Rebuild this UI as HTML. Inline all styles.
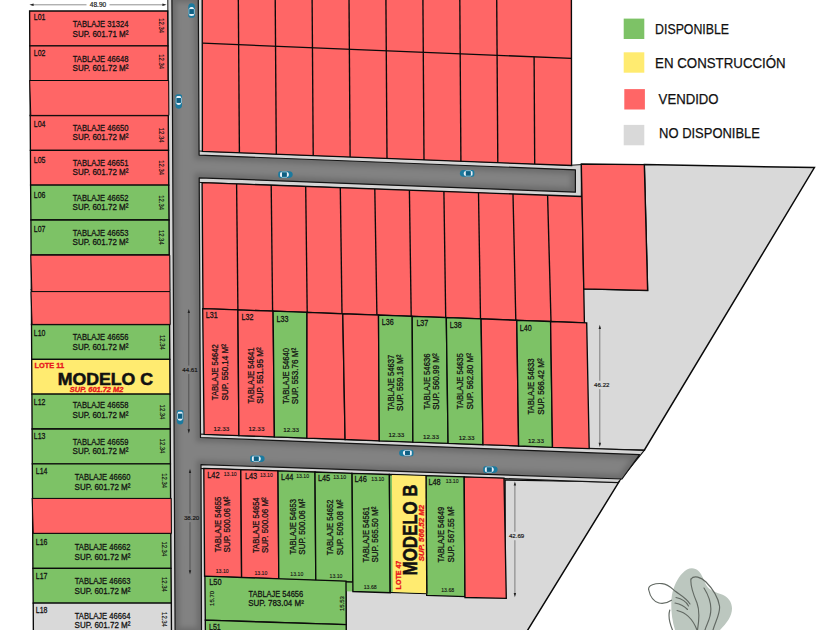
<!DOCTYPE html>
<html><head><meta charset="utf-8"><title>Plano de lotes</title>
<style>
html,body{margin:0;padding:0;background:#fff;}
body{width:840px;height:630px;overflow:hidden;}
svg{display:block;font-family:"Liberation Sans",sans-serif;fill:#111;}
svg text{stroke:#111;}
svg text.b{stroke:none;}
svg polygon,svg rect,svg path,svg line{shape-rendering:geometricPrecision;}
</style></head><body>
<svg width="840" height="630" viewBox="0 0 840 630">
<rect x="0" y="0" width="840" height="630" fill="#fff"/>
<polygon points="644.3,164.6 814.4,167.6 644.3,450.2 583.0,449.0 583.0,288.8 647.6,290.4" fill="#D9D9D9" stroke="#0A0A0A" stroke-width="1.5" />
<polygon points="346.0,590.0 505.0,596.0 505.0,480.0 619.0,481.8 526.5,632.0 346.0,632.0" fill="#D9D9D9" stroke="#0A0A0A" stroke-width="1.5" />
<polygon points="167.8,-2.0 203.0,-2.0 206.2,632.0 171.0,632.0" fill="#D5D5D5" stroke="#141414" stroke-width="1.0" />
<polygon points="198.6,151.0 571.6,165.2 581.3,164.6 581.3,197.0 198.6,182.4" fill="#D5D5D5" stroke="#141414" stroke-width="1.0" />
<polygon points="198.6,434.0 588.6,448.4 644.3,450.4 618.0,482.6 560.0,480.7 505.0,478.6 198.6,468.4" fill="#D5D5D5" stroke="#141414" stroke-width="1.2" />
<defs><clipPath id="rc"><polygon points="171.9,-2.0 198.3,-2.0 199.1,155.1 575.4,169.8 575.4,192.2 199.2,177.8 200.5,437.5 639.6,454.7 622.0,479.0 201.0,464.6 201.5,632.0 175.1,632.0"/></clipPath><filter id="bl" x="-5%" y="-5%" width="110%" height="110%"><feGaussianBlur stdDeviation="2.6"/></filter></defs>
<polygon points="171.9,-2.0 198.3,-2.0 199.1,155.1 575.4,169.8 575.4,192.2 199.2,177.8 200.5,437.5 639.6,454.7 622.0,479.0 201.0,464.6 201.5,632.0 175.1,632.0" fill="#828282"  />
<g clip-path="url(#rc)"><polygon points="171.9,-2.0 198.3,-2.0 199.1,155.1 575.4,169.8 575.4,192.2 199.2,177.8 200.5,437.5 639.6,454.7 622.0,479.0 201.0,464.6 201.5,632.0 175.1,632.0" fill="none" stroke="#000" stroke-opacity="0.17" stroke-width="9" filter="url(#bl)"/></g>
<polygon points="171.9,-2.0 198.3,-2.0 199.1,155.1 575.4,169.8 575.4,192.2 199.2,177.8 200.5,437.5 639.6,454.7 622.0,479.0 201.0,464.6 201.5,632.0 175.1,632.0" fill="none" stroke="#141414" stroke-width="1.2" stroke-linejoin="round"/>
<polygon points="29.6,11.0 167.7,11.0 167.9,45.8 29.8,45.8" fill="#FF6666" stroke="#0A0A0A" stroke-width="1.35" />
<polygon points="29.8,45.8 167.9,45.8 168.1,80.7 30.0,80.7" fill="#FF6666" stroke="#0A0A0A" stroke-width="1.35" />
<polygon points="30.0,80.7 168.1,80.7 168.3,115.5 30.2,115.5" fill="#FF6666" stroke="#0A0A0A" stroke-width="1.35" />
<polygon points="30.2,115.5 168.3,115.5 168.5,150.3 30.4,150.3" fill="#FF6666" stroke="#0A0A0A" stroke-width="1.35" />
<polygon points="30.4,150.3 168.5,150.3 168.7,185.1 30.6,185.1" fill="#FF6666" stroke="#0A0A0A" stroke-width="1.35" />
<polygon points="30.6,185.1 168.7,185.1 169.0,220.0 30.9,220.0" fill="#7DC266" stroke="#0A0A0A" stroke-width="1.35" />
<polygon points="30.9,220.0 169.0,220.0 169.2,254.8 31.1,254.8" fill="#7DC266" stroke="#0A0A0A" stroke-width="1.35" />
<polygon points="31.1,254.8 169.2,254.8 169.4,289.6 31.3,289.6" fill="#FF6666" stroke="#0A0A0A" stroke-width="1.35" />
<polygon points="31.3,289.6 169.4,289.6 169.6,324.5 31.5,324.5" fill="#FF6666" stroke="#0A0A0A" stroke-width="1.35" />
<polygon points="31.5,324.5 169.6,324.5 169.8,359.3 31.7,359.3" fill="#7DC266" stroke="#0A0A0A" stroke-width="1.35" />
<polygon points="31.7,359.3 169.8,359.3 170.0,394.1 31.9,394.1" fill="#FFEB70" stroke="#0A0A0A" stroke-width="1.35" />
<polygon points="31.9,394.1 170.0,394.1 170.2,429.0 32.1,429.0" fill="#7DC266" stroke="#0A0A0A" stroke-width="1.35" />
<polygon points="32.1,429.0 170.2,429.0 170.4,463.8 32.3,463.8" fill="#7DC266" stroke="#0A0A0A" stroke-width="1.35" />
<polygon points="32.3,463.8 170.4,463.8 170.6,498.6 32.5,498.6" fill="#7DC266" stroke="#0A0A0A" stroke-width="1.35" />
<polygon points="32.5,498.6 170.6,498.6 170.8,533.5 32.7,533.5" fill="#FF6666" stroke="#0A0A0A" stroke-width="1.35" />
<polygon points="32.7,533.4 170.8,533.4 171.0,568.3 32.9,568.3" fill="#7DC266" stroke="#0A0A0A" stroke-width="1.35" />
<polygon points="32.9,568.3 171.0,568.3 171.3,603.1 33.2,603.1" fill="#7DC266" stroke="#0A0A0A" stroke-width="1.35" />
<polygon points="33.2,603.1 171.3,603.1 171.5,637.9 33.4,637.9" fill="#D9D9D9" stroke="#0A0A0A" stroke-width="1.35" />
<polygon points="29.7,80.5 168.7,80.5 168.9,115.4 30.8,115.4" fill="#FF6666" stroke="#0A0A0A" stroke-width="1.0" />
<polygon points="30.8,255.2 169.8,255.2 170.0,291.6 31.9,291.6" fill="#FF6666" stroke="#0A0A0A" stroke-width="1.0" />
<polygon points="31.0,291.6 170.0,291.6 170.2,324.4 32.1,324.4" fill="#FF6666" stroke="#0A0A0A" stroke-width="1.0" />
<polygon points="32.2,498.4 171.2,498.4 171.4,533.3 33.3,533.3" fill="#FF6666" stroke="#0A0A0A" stroke-width="1.0" />
<polygon points="202.2,-3.0 571.4,-3.0 571.6,165.5 202.4,151.4" fill="#FF6666" stroke="#0A0A0A" stroke-width="1.35" />
<line x1="238.3" y1="-3.0" x2="239.4" y2="152.8" stroke="#0A0A0A" stroke-width="1.35"/>
<line x1="275.2" y1="-3.0" x2="276.3" y2="154.2" stroke="#0A0A0A" stroke-width="1.35"/>
<line x1="312.1" y1="-3.0" x2="313.2" y2="155.6" stroke="#0A0A0A" stroke-width="1.35"/>
<line x1="349.0" y1="-3.0" x2="350.1" y2="157.0" stroke="#0A0A0A" stroke-width="1.35"/>
<line x1="385.9" y1="-3.0" x2="387.0" y2="158.5" stroke="#0A0A0A" stroke-width="1.35"/>
<line x1="422.9" y1="-3.0" x2="424.0" y2="159.9" stroke="#0A0A0A" stroke-width="1.35"/>
<line x1="459.8" y1="-3.0" x2="460.9" y2="161.3" stroke="#0A0A0A" stroke-width="1.35"/>
<line x1="496.7" y1="-3.0" x2="497.8" y2="162.7" stroke="#0A0A0A" stroke-width="1.35"/>
<line x1="534.1" y1="56.8" x2="534.7" y2="164.1" stroke="#0A0A0A" stroke-width="1.35"/>
<line x1="202.8" y1="43.2" x2="571.6" y2="58.4" stroke="#0A0A0A" stroke-width="1.35"/>
<polygon points="202.1,182.6 582.1,196.5 584.4,322.8 203.0,308.6" fill="#FF6666" stroke="#0A0A0A" stroke-width="1.35" />
<line x1="236.6" y1="183.9" x2="237.9" y2="309.9" stroke="#0A0A0A" stroke-width="1.35"/>
<line x1="271.2" y1="185.1" x2="272.6" y2="311.2" stroke="#0A0A0A" stroke-width="1.35"/>
<line x1="305.7" y1="186.4" x2="307.2" y2="312.4" stroke="#0A0A0A" stroke-width="1.35"/>
<line x1="340.3" y1="187.7" x2="342.0" y2="313.7" stroke="#0A0A0A" stroke-width="1.35"/>
<line x1="374.8" y1="188.9" x2="376.9" y2="315.0" stroke="#0A0A0A" stroke-width="1.35"/>
<line x1="409.4" y1="190.2" x2="411.2" y2="316.3" stroke="#0A0A0A" stroke-width="1.35"/>
<line x1="443.9" y1="191.4" x2="445.7" y2="317.6" stroke="#0A0A0A" stroke-width="1.35"/>
<line x1="478.5" y1="192.7" x2="480.5" y2="318.9" stroke="#0A0A0A" stroke-width="1.35"/>
<line x1="513.0" y1="194.0" x2="515.8" y2="320.2" stroke="#0A0A0A" stroke-width="1.35"/>
<line x1="547.6" y1="195.2" x2="551.0" y2="321.5" stroke="#0A0A0A" stroke-width="1.35"/>
<polygon points="202.7,308.6 237.9,309.9 238.9,435.6 204.1,434.3" fill="#FF6666" stroke="#0A0A0A" stroke-width="1.35" />
<polygon points="237.9,309.9 273.1,311.2 274.4,436.9 238.9,435.6" fill="#FF6666" stroke="#0A0A0A" stroke-width="1.35" />
<polygon points="273.1,311.2 307.0,312.4 306.9,438.1 274.4,436.9" fill="#7DC266" stroke="#0A0A0A" stroke-width="1.35" />
<polygon points="307.0,312.4 342.8,313.8 345.1,439.5 306.9,438.1" fill="#FF6666" stroke="#0A0A0A" stroke-width="1.35" />
<polygon points="342.8,313.8 378.5,315.1 379.3,440.8 345.1,439.5" fill="#FF6666" stroke="#0A0A0A" stroke-width="1.35" />
<polygon points="378.5,315.1 412.2,316.4 412.9,442.1 379.3,440.8" fill="#7DC266" stroke="#0A0A0A" stroke-width="1.35" />
<polygon points="412.2,316.4 446.3,317.6 448.1,443.4 412.9,442.1" fill="#7DC266" stroke="#0A0A0A" stroke-width="1.35" />
<polygon points="446.3,317.6 481.1,318.9 483.0,444.7 448.1,443.4" fill="#7DC266" stroke="#0A0A0A" stroke-width="1.35" />
<polygon points="481.1,318.9 516.8,320.3 518.6,446.0 483.0,444.7" fill="#FF6666" stroke="#0A0A0A" stroke-width="1.35" />
<polygon points="516.8,320.3 550.6,321.5 552.5,447.3 518.6,446.0" fill="#7DC266" stroke="#0A0A0A" stroke-width="1.35" />
<polygon points="550.6,321.5 586.7,322.9 589.2,448.6 552.5,447.3" fill="#FF6666" stroke="#0A0A0A" stroke-width="1.35" />
<polygon points="581.3,164.0 644.3,164.6 647.6,290.4 583.8,288.8" fill="#FF6666" stroke="#0A0A0A" stroke-width="1.35" />
<polygon points="345.5,579.0 352.6,579.0 352.8,591.6 345.5,591.2" fill="#7DC266"  />
<polygon points="203.8,468.4 240.8,469.6 241.6,577.6 204.6,576.4" fill="#FF6666" stroke="#0A0A0A" stroke-width="1.35" />
<polygon points="240.8,469.6 278.0,470.8 278.8,578.8 241.6,577.6" fill="#FF6666" stroke="#0A0A0A" stroke-width="1.35" />
<polygon points="278.0,470.8 315.0,472.0 315.8,580.6 278.8,579.4" fill="#7DC266" stroke="#0A0A0A" stroke-width="1.35" />
<polygon points="315.0,472.0 352.1,473.3 352.9,582.0 315.8,580.8" fill="#7DC266" stroke="#0A0A0A" stroke-width="1.35" />
<polygon points="352.1,473.3 389.4,474.5 390.2,592.7 352.9,591.5" fill="#7DC266" stroke="#0A0A0A" stroke-width="1.35" />
<polygon points="389.4,474.5 425.9,475.7 426.7,593.6 390.2,592.4" fill="#7DC266" stroke="#0A0A0A" stroke-width="1.35" />
<polygon points="425.9,475.7 464.2,476.9 465.0,596.6 426.7,595.4" fill="#7DC266" stroke="#0A0A0A" stroke-width="1.35" />
<polygon points="464.2,476.9 504.0,478.2 506.3,598.3 465.0,597.5" fill="#FF6666" stroke="#0A0A0A" stroke-width="1.35" />
<polygon points="391.9,475.0 426.0,476.1 426.8,593.2 392.7,592.0" fill="#FFEB70"  />
<line x1="426.0" y1="475.7" x2="426.8" y2="593.6" stroke="#0A0A0A" stroke-width="1.35"/>
<polygon points="204.9,576.2 346.0,581.2 346.2,624.6 205.3,620.2" fill="#7DC266" stroke="#0A0A0A" stroke-width="1.35" />
<polygon points="205.3,620.2 346.2,624.6 346.3,640.0 205.4,640.0" fill="#7DC266" stroke="#0A0A0A" stroke-width="1.35" />
<text x="34.6" y="368.1" font-size="7.0" textLength="29.4" lengthAdjust="spacingAndGlyphs" font-weight="bold" class="b" style="stroke:#E8141C;stroke-width:.32px" fill="#E8141C">LOTE 11</text>
<text x="57.7" y="384.5" font-size="17.2" textLength="95.3" lengthAdjust="spacingAndGlyphs" font-weight="bold" class="b" style="stroke:#111;stroke-width:.55px">MODELO C</text>
<text x="69.8" y="392.0" font-size="6.6" textLength="53.6" lengthAdjust="spacingAndGlyphs" font-weight="bold" class="b" style="stroke:#E8141C;stroke-width:.32px" font-style="italic" fill="#E8141C">SUP. 601.72 M2</text>
<text x="416.6" y="575.4" font-size="20.0" textLength="90.8" lengthAdjust="spacingAndGlyphs" transform="rotate(-90 416.6 575.4)" font-weight="bold" class="b" style="stroke:#111;stroke-width:.55px">MODELO B</text>
<text x="401.0" y="589.4" font-size="7.2" textLength="28.7" lengthAdjust="spacingAndGlyphs" transform="rotate(-90 401.0 589.4)" font-weight="bold" class="b" style="stroke:#E8141C;stroke-width:.32px" fill="#E8141C">LOTE 47</text>
<text x="424.0" y="561.3" font-size="6.8" textLength="56.4" lengthAdjust="spacingAndGlyphs" transform="rotate(-90 424.0 561.3)" font-weight="bold" class="b" style="stroke:#E8141C;stroke-width:.32px" font-style="italic" fill="#E8141C">SUP. 566.52 M2</text>
<text x="33.8" y="20.0" font-size="8.5" textLength="11.6" lengthAdjust="spacingAndGlyphs" stroke-width="0.27">L01</text>
<text x="72.8" y="27.1" font-size="8.7" textLength="55.6" lengthAdjust="spacingAndGlyphs" stroke-width="0.27">TABLAJE 31324</text>
<text x="72.6" y="36.5" font-size="8.7" textLength="55.8" lengthAdjust="spacingAndGlyphs" stroke-width="0.27">SUP. 601.71 M²</text>
<text font-size="7.0" stroke-width="0.16" text-anchor="middle" textLength="14.8" lengthAdjust="spacingAndGlyphs" transform="translate(158.8 25.6) rotate(90)">12.34</text>
<text x="33.8" y="55.7" font-size="8.5" textLength="11.6" lengthAdjust="spacingAndGlyphs" stroke-width="0.27">L02</text>
<text x="72.8" y="61.9" font-size="8.7" textLength="55.6" lengthAdjust="spacingAndGlyphs" stroke-width="0.27">TABLAJE 46648</text>
<text x="72.6" y="71.3" font-size="8.7" textLength="55.8" lengthAdjust="spacingAndGlyphs" stroke-width="0.27">SUP. 601.72 M²</text>
<text font-size="7.0" stroke-width="0.16" text-anchor="middle" textLength="14.8" lengthAdjust="spacingAndGlyphs" transform="translate(158.8 61.7) rotate(90)">12.34</text>
<text x="33.8" y="127.2" font-size="8.5" textLength="11.6" lengthAdjust="spacingAndGlyphs" stroke-width="0.27">L04</text>
<text x="72.8" y="131.0" font-size="8.7" textLength="55.6" lengthAdjust="spacingAndGlyphs" stroke-width="0.27">TABLAJE 46650</text>
<text x="72.6" y="140.4" font-size="8.7" textLength="55.8" lengthAdjust="spacingAndGlyphs" stroke-width="0.27">SUP. 601.72 M²</text>
<text font-size="7.0" stroke-width="0.16" text-anchor="middle" textLength="14.8" lengthAdjust="spacingAndGlyphs" transform="translate(158.8 135.1) rotate(90)">12.34</text>
<text x="33.8" y="162.5" font-size="8.5" textLength="11.6" lengthAdjust="spacingAndGlyphs" stroke-width="0.27">L05</text>
<text x="72.8" y="165.8" font-size="8.7" textLength="55.6" lengthAdjust="spacingAndGlyphs" stroke-width="0.27">TABLAJE 46651</text>
<text x="72.6" y="175.2" font-size="8.7" textLength="55.8" lengthAdjust="spacingAndGlyphs" stroke-width="0.27">SUP. 601.72 M²</text>
<text font-size="7.0" stroke-width="0.16" text-anchor="middle" textLength="14.8" lengthAdjust="spacingAndGlyphs" transform="translate(158.8 167.6) rotate(90)">12.34</text>
<text x="33.8" y="197.6" font-size="8.5" textLength="11.6" lengthAdjust="spacingAndGlyphs" stroke-width="0.27">L06</text>
<text x="72.8" y="200.9" font-size="8.7" textLength="55.6" lengthAdjust="spacingAndGlyphs" stroke-width="0.27">TABLAJE 46652</text>
<text x="72.6" y="210.3" font-size="8.7" textLength="55.8" lengthAdjust="spacingAndGlyphs" stroke-width="0.27">SUP. 601.72 M²</text>
<text font-size="7.0" stroke-width="0.16" text-anchor="middle" textLength="14.8" lengthAdjust="spacingAndGlyphs" transform="translate(158.8 202.6) rotate(90)">12.34</text>
<text x="33.8" y="232.3" font-size="8.5" textLength="11.6" lengthAdjust="spacingAndGlyphs" stroke-width="0.27">L07</text>
<text x="72.8" y="235.8" font-size="8.7" textLength="55.6" lengthAdjust="spacingAndGlyphs" stroke-width="0.27">TABLAJE 46653</text>
<text x="72.6" y="245.2" font-size="8.7" textLength="55.8" lengthAdjust="spacingAndGlyphs" stroke-width="0.27">SUP. 601.72 M²</text>
<text font-size="7.0" stroke-width="0.16" text-anchor="middle" textLength="14.8" lengthAdjust="spacingAndGlyphs" transform="translate(158.8 237.3) rotate(90)">12.34</text>
<text x="33.8" y="336.4" font-size="8.5" textLength="11.6" lengthAdjust="spacingAndGlyphs" stroke-width="0.27">L10</text>
<text x="72.8" y="340.1" font-size="8.7" textLength="55.6" lengthAdjust="spacingAndGlyphs" stroke-width="0.27">TABLAJE 46656</text>
<text x="72.6" y="349.5" font-size="8.7" textLength="55.8" lengthAdjust="spacingAndGlyphs" stroke-width="0.27">SUP. 601.72 M²</text>
<text font-size="7.0" stroke-width="0.16" text-anchor="middle" textLength="14.8" lengthAdjust="spacingAndGlyphs" transform="translate(160.1 342.4) rotate(90)">12.34</text>
<text x="33.8" y="404.9" font-size="8.5" textLength="11.6" lengthAdjust="spacingAndGlyphs" stroke-width="0.27">L12</text>
<text x="72.8" y="408.4" font-size="8.7" textLength="55.6" lengthAdjust="spacingAndGlyphs" stroke-width="0.27">TABLAJE 46658</text>
<text x="72.6" y="417.8" font-size="8.7" textLength="55.8" lengthAdjust="spacingAndGlyphs" stroke-width="0.27">SUP. 601.72 M²</text>
<text font-size="7.0" stroke-width="0.16" text-anchor="middle" textLength="14.8" lengthAdjust="spacingAndGlyphs" transform="translate(160.1 412.0) rotate(90)">12.34</text>
<text x="33.8" y="439.2" font-size="8.5" textLength="11.6" lengthAdjust="spacingAndGlyphs" stroke-width="0.27">L13</text>
<text x="72.8" y="444.8" font-size="8.7" textLength="55.6" lengthAdjust="spacingAndGlyphs" stroke-width="0.27">TABLAJE 46659</text>
<text x="72.6" y="454.2" font-size="8.7" textLength="55.8" lengthAdjust="spacingAndGlyphs" stroke-width="0.27">SUP. 601.72 M²</text>
<text font-size="7.0" stroke-width="0.16" text-anchor="middle" textLength="14.8" lengthAdjust="spacingAndGlyphs" transform="translate(160.1 446.0) rotate(90)">12.34</text>
<text x="35.8" y="474.3" font-size="8.5" textLength="11.6" lengthAdjust="spacingAndGlyphs" stroke-width="0.27">L14</text>
<text x="74.8" y="480.3" font-size="8.7" textLength="55.6" lengthAdjust="spacingAndGlyphs" stroke-width="0.27">TABLAJE 46660</text>
<text x="74.6" y="489.7" font-size="8.7" textLength="55.8" lengthAdjust="spacingAndGlyphs" stroke-width="0.27">SUP. 601.72 M²</text>
<text font-size="7.0" stroke-width="0.16" text-anchor="middle" textLength="14.8" lengthAdjust="spacingAndGlyphs" transform="translate(161.8 480.7) rotate(90)">12.34</text>
<text x="35.8" y="544.7" font-size="8.5" textLength="11.6" lengthAdjust="spacingAndGlyphs" stroke-width="0.27">L16</text>
<text x="74.8" y="550.4" font-size="8.7" textLength="55.6" lengthAdjust="spacingAndGlyphs" stroke-width="0.27">TABLAJE 46662</text>
<text x="74.6" y="559.8" font-size="8.7" textLength="55.8" lengthAdjust="spacingAndGlyphs" stroke-width="0.27">SUP. 601.72 M²</text>
<text font-size="7.0" stroke-width="0.16" text-anchor="middle" textLength="14.8" lengthAdjust="spacingAndGlyphs" transform="translate(161.8 548.8) rotate(90)">12.34</text>
<text x="35.8" y="578.6" font-size="8.5" textLength="11.6" lengthAdjust="spacingAndGlyphs" stroke-width="0.27">L17</text>
<text x="74.8" y="584.4" font-size="8.7" textLength="55.6" lengthAdjust="spacingAndGlyphs" stroke-width="0.27">TABLAJE 46663</text>
<text x="74.6" y="593.8" font-size="8.7" textLength="55.8" lengthAdjust="spacingAndGlyphs" stroke-width="0.27">SUP. 601.72 M²</text>
<text font-size="7.0" stroke-width="0.16" text-anchor="middle" textLength="14.8" lengthAdjust="spacingAndGlyphs" transform="translate(161.8 584.4) rotate(90)">12.34</text>
<text x="35.8" y="613.0" font-size="8.5" textLength="11.6" lengthAdjust="spacingAndGlyphs" stroke-width="0.27">L18</text>
<text x="74.8" y="618.8" font-size="8.7" textLength="55.6" lengthAdjust="spacingAndGlyphs" stroke-width="0.27">TABLAJE 46664</text>
<text x="74.6" y="628.2" font-size="8.7" textLength="55.8" lengthAdjust="spacingAndGlyphs" stroke-width="0.27">SUP. 601.72 M²</text>
<text font-size="7.0" stroke-width="0.16" text-anchor="middle" textLength="14.8" lengthAdjust="spacingAndGlyphs" transform="translate(161.8 619.5) rotate(90)">12.34</text>
<text x="205.8" y="317.7" font-size="8.3" textLength="11.9" lengthAdjust="spacingAndGlyphs" stroke-width="0.27">L31</text>
<text font-size="8.7" stroke-width="0.27" text-anchor="middle" textLength="56.0" lengthAdjust="spacingAndGlyphs" transform="translate(218.2 372.2) rotate(-90)">TABLAJE 54642</text>
<text font-size="8.7" stroke-width="0.27" text-anchor="middle" textLength="56.4" lengthAdjust="spacingAndGlyphs" transform="translate(227.8 372.2) rotate(-90)">SUP. 550.14 M²</text>
<text x="221.4" y="430.7" font-size="6.2" stroke-width="0.16" text-anchor="middle" textLength="15.8" lengthAdjust="spacingAndGlyphs">12.33</text>
<text x="241.5" y="319.5" font-size="8.3" textLength="11.9" lengthAdjust="spacingAndGlyphs" stroke-width="0.27">L32</text>
<text font-size="8.7" stroke-width="0.27" text-anchor="middle" textLength="56.0" lengthAdjust="spacingAndGlyphs" transform="translate(254.1 375.5) rotate(-90)">TABLAJE 54641</text>
<text font-size="8.7" stroke-width="0.27" text-anchor="middle" textLength="56.4" lengthAdjust="spacingAndGlyphs" transform="translate(263.4 375.5) rotate(-90)">SUP. 551.95 M²</text>
<text x="256.5" y="431.4" font-size="6.2" stroke-width="0.16" text-anchor="middle" textLength="15.8" lengthAdjust="spacingAndGlyphs">12.33</text>
<text x="276.6" y="321.5" font-size="8.3" textLength="11.9" lengthAdjust="spacingAndGlyphs" stroke-width="0.27">L33</text>
<text font-size="8.7" stroke-width="0.27" text-anchor="middle" textLength="56.0" lengthAdjust="spacingAndGlyphs" transform="translate(288.5 376.0) rotate(-90)">TABLAJE 54640</text>
<text font-size="8.7" stroke-width="0.27" text-anchor="middle" textLength="56.4" lengthAdjust="spacingAndGlyphs" transform="translate(297.8 376.0) rotate(-90)">SUP. 553.76 M²</text>
<text x="291.1" y="432.2" font-size="6.2" stroke-width="0.16" text-anchor="middle" textLength="15.8" lengthAdjust="spacingAndGlyphs">12.33</text>
<text x="381.8" y="324.6" font-size="8.3" textLength="11.9" lengthAdjust="spacingAndGlyphs" stroke-width="0.27">L36</text>
<text font-size="8.7" stroke-width="0.27" text-anchor="middle" textLength="56.0" lengthAdjust="spacingAndGlyphs" transform="translate(393.9 382.8) rotate(-90)">TABLAJE 54637</text>
<text font-size="8.7" stroke-width="0.27" text-anchor="middle" textLength="56.4" lengthAdjust="spacingAndGlyphs" transform="translate(403.2 382.8) rotate(-90)">SUP. 559.18 M²</text>
<text x="396.3" y="437.0" font-size="6.2" stroke-width="0.16" text-anchor="middle" textLength="15.8" lengthAdjust="spacingAndGlyphs">12.33</text>
<text x="416.4" y="326.3" font-size="8.3" textLength="11.9" lengthAdjust="spacingAndGlyphs" stroke-width="0.27">L37</text>
<text font-size="8.7" stroke-width="0.27" text-anchor="middle" textLength="56.0" lengthAdjust="spacingAndGlyphs" transform="translate(429.5 381.6) rotate(-90)">TABLAJE 54636</text>
<text font-size="8.7" stroke-width="0.27" text-anchor="middle" textLength="56.4" lengthAdjust="spacingAndGlyphs" transform="translate(438.8 381.6) rotate(-90)">SUP. 560.99 M²</text>
<text x="431.0" y="439.0" font-size="6.2" stroke-width="0.16" text-anchor="middle" textLength="15.8" lengthAdjust="spacingAndGlyphs">12.33</text>
<text x="449.8" y="328.3" font-size="8.3" textLength="11.9" lengthAdjust="spacingAndGlyphs" stroke-width="0.27">L38</text>
<text font-size="8.7" stroke-width="0.27" text-anchor="middle" textLength="56.0" lengthAdjust="spacingAndGlyphs" transform="translate(462.9 381.2) rotate(-90)">TABLAJE 54635</text>
<text font-size="8.7" stroke-width="0.27" text-anchor="middle" textLength="56.4" lengthAdjust="spacingAndGlyphs" transform="translate(472.7 381.2) rotate(-90)">SUP. 562.80 M²</text>
<text x="466.6" y="439.7" font-size="6.2" stroke-width="0.16" text-anchor="middle" textLength="15.8" lengthAdjust="spacingAndGlyphs">12.33</text>
<text x="519.8" y="330.8" font-size="8.3" textLength="11.9" lengthAdjust="spacingAndGlyphs" stroke-width="0.27">L40</text>
<text font-size="8.7" stroke-width="0.27" text-anchor="middle" textLength="56.0" lengthAdjust="spacingAndGlyphs" transform="translate(534.2 386.5) rotate(-90)">TABLAJE 54633</text>
<text font-size="8.7" stroke-width="0.27" text-anchor="middle" textLength="56.4" lengthAdjust="spacingAndGlyphs" transform="translate(543.7 386.5) rotate(-90)">SUP. 566.42 M²</text>
<text x="536.0" y="443.2" font-size="6.2" stroke-width="0.16" text-anchor="middle" textLength="15.8" lengthAdjust="spacingAndGlyphs">12.33</text>
<text x="207.2" y="477.9" font-size="8.8" textLength="12.3" lengthAdjust="spacingAndGlyphs" stroke-width="0.27">L42</text>
<text x="230.2" y="476.0" font-size="5.3" stroke-width="0.1" text-anchor="middle" textLength="12.9" lengthAdjust="spacingAndGlyphs">13.10</text>
<text font-size="8.7" stroke-width="0.27" text-anchor="middle" textLength="55.6" lengthAdjust="spacingAndGlyphs" transform="translate(220.8 524.5) rotate(-90)">TABLAJE 54655</text>
<text font-size="8.7" stroke-width="0.27" text-anchor="middle" textLength="55.8" lengthAdjust="spacingAndGlyphs" transform="translate(229.9 524.5) rotate(-90)">SUP. 500.06 M²</text>
<text x="222.2" y="573.2" font-size="5.3" stroke-width="0.1" text-anchor="middle" textLength="13.0" lengthAdjust="spacingAndGlyphs">13.10</text>
<text x="244.9" y="478.8" font-size="8.8" textLength="12.3" lengthAdjust="spacingAndGlyphs" stroke-width="0.27">L43</text>
<text x="266.4" y="477.1" font-size="5.3" stroke-width="0.1" text-anchor="middle" textLength="12.9" lengthAdjust="spacingAndGlyphs">13.10</text>
<text font-size="8.7" stroke-width="0.27" text-anchor="middle" textLength="55.6" lengthAdjust="spacingAndGlyphs" transform="translate(258.5 525.2) rotate(-90)">TABLAJE 54654</text>
<text font-size="8.7" stroke-width="0.27" text-anchor="middle" textLength="55.8" lengthAdjust="spacingAndGlyphs" transform="translate(268.2 525.2) rotate(-90)">SUP. 500.06 M²</text>
<text x="260.9" y="574.7" font-size="5.3" stroke-width="0.1" text-anchor="middle" textLength="13.0" lengthAdjust="spacingAndGlyphs">13.10</text>
<text x="281.1" y="479.8" font-size="8.8" textLength="12.3" lengthAdjust="spacingAndGlyphs" stroke-width="0.27">L44</text>
<text x="302.6" y="478.2" font-size="5.3" stroke-width="0.1" text-anchor="middle" textLength="12.9" lengthAdjust="spacingAndGlyphs">13.10</text>
<text font-size="8.7" stroke-width="0.27" text-anchor="middle" textLength="55.6" lengthAdjust="spacingAndGlyphs" transform="translate(296.3 526.8) rotate(-90)">TABLAJE 54653</text>
<text font-size="8.7" stroke-width="0.27" text-anchor="middle" textLength="55.8" lengthAdjust="spacingAndGlyphs" transform="translate(305.3 526.8) rotate(-90)">SUP. 500.06 M²</text>
<text x="296.8" y="575.6" font-size="5.3" stroke-width="0.1" text-anchor="middle" textLength="13.0" lengthAdjust="spacingAndGlyphs">13.10</text>
<text x="317.9" y="480.8" font-size="8.8" textLength="12.3" lengthAdjust="spacingAndGlyphs" stroke-width="0.27">L45</text>
<text x="339.6" y="479.2" font-size="5.3" stroke-width="0.1" text-anchor="middle" textLength="12.9" lengthAdjust="spacingAndGlyphs">13.10</text>
<text font-size="8.7" stroke-width="0.27" text-anchor="middle" textLength="55.6" lengthAdjust="spacingAndGlyphs" transform="translate(333.4 527.4) rotate(-90)">TABLAJE 54652</text>
<text font-size="8.7" stroke-width="0.27" text-anchor="middle" textLength="55.8" lengthAdjust="spacingAndGlyphs" transform="translate(343.0 527.4) rotate(-90)">SUP. 509.08 M²</text>
<text x="336.0" y="578.3" font-size="5.3" stroke-width="0.1" text-anchor="middle" textLength="13.0" lengthAdjust="spacingAndGlyphs">13.10</text>
<text x="354.5" y="482.4" font-size="8.8" textLength="12.3" lengthAdjust="spacingAndGlyphs" stroke-width="0.27">L46</text>
<text x="377.8" y="480.5" font-size="5.3" stroke-width="0.1" text-anchor="middle" textLength="12.9" lengthAdjust="spacingAndGlyphs">13.10</text>
<text font-size="8.7" stroke-width="0.27" text-anchor="middle" textLength="55.6" lengthAdjust="spacingAndGlyphs" transform="translate(368.7 534.6) rotate(-90)">TABLAJE 54561</text>
<text font-size="8.7" stroke-width="0.27" text-anchor="middle" textLength="55.8" lengthAdjust="spacingAndGlyphs" transform="translate(378.4 534.6) rotate(-90)">SUP. 565.50 M²</text>
<text x="370.2" y="589.2" font-size="5.3" stroke-width="0.1" text-anchor="middle" textLength="13.0" lengthAdjust="spacingAndGlyphs">13.68</text>
<text x="428.4" y="484.8" font-size="8.8" textLength="12.3" lengthAdjust="spacingAndGlyphs" stroke-width="0.27">L48</text>
<text x="452.1" y="482.6" font-size="5.3" stroke-width="0.1" text-anchor="middle" textLength="12.9" lengthAdjust="spacingAndGlyphs">13.10</text>
<text font-size="8.7" stroke-width="0.27" text-anchor="middle" textLength="55.6" lengthAdjust="spacingAndGlyphs" transform="translate(443.6 534.6) rotate(-90)">TABLAJE 54649</text>
<text font-size="8.7" stroke-width="0.27" text-anchor="middle" textLength="55.8" lengthAdjust="spacingAndGlyphs" transform="translate(453.8 534.6) rotate(-90)">SUP. 567.55 M²</text>
<text x="447.7" y="591.9" font-size="5.3" stroke-width="0.1" text-anchor="middle" textLength="13.0" lengthAdjust="spacingAndGlyphs">13.68</text>
<text x="209.2" y="585.3" font-size="8.9" textLength="12.4" lengthAdjust="spacingAndGlyphs" stroke-width="0.27">L50</text>
<text x="209.0" y="629.6" font-size="8.9" textLength="11.8" lengthAdjust="spacingAndGlyphs" stroke-width="0.27">L51</text>
<text x="248.5" y="596.7" font-size="8.6" textLength="54.6" lengthAdjust="spacingAndGlyphs" stroke-width="0.27">TABLAJE 54656</text>
<text x="248.2" y="606.1" font-size="8.6" textLength="55.6" lengthAdjust="spacingAndGlyphs" stroke-width="0.27">SUP. 783.04 M²</text>
<text font-size="6.0" stroke-width="0.16" text-anchor="middle" textLength="15.0" lengthAdjust="spacingAndGlyphs" transform="translate(214.0 598.4) rotate(-90)">15.70</text>
<text font-size="6.0" stroke-width="0.16" text-anchor="middle" textLength="15.0" lengthAdjust="spacingAndGlyphs" transform="translate(343.8 603.6) rotate(-90)">15.53</text>
<line x1="188.8" y1="310.9" x2="188.8" y2="365.6" stroke="#222" stroke-width="0.5"/>
<line x1="188.8" y1="374.0" x2="188.8" y2="431.4" stroke="#222" stroke-width="0.5"/>
<path d="M188.8 308.9l-1.2 4.2h2.4zM188.8 433.4l-1.2 -4.2h2.4z" fill="#222"/>
<text x="190.0" y="372.0" font-size="6.2" stroke-width="0.16" text-anchor="middle" textLength="15.4" lengthAdjust="spacingAndGlyphs">44.61</text>
<line x1="190.0" y1="470.8" x2="190.0" y2="513.7" stroke="#222" stroke-width="0.5"/>
<line x1="190.0" y1="522.1" x2="190.0" y2="572.4" stroke="#222" stroke-width="0.5"/>
<path d="M190.0 468.8l-1.2 4.2h2.4zM190.0 574.4l-1.2 -4.2h2.4z" fill="#222"/>
<text x="191.6" y="520.1" font-size="6.2" stroke-width="0.16" text-anchor="middle" textLength="15.4" lengthAdjust="spacingAndGlyphs">38.20</text>
<line x1="599.8" y1="326.8" x2="599.8" y2="380.8" stroke="#222" stroke-width="0.5"/>
<line x1="599.8" y1="389.2" x2="599.8" y2="445.0" stroke="#222" stroke-width="0.5"/>
<path d="M599.8 324.8l-1.2 4.2h2.4zM599.8 447.0l-1.2 -4.2h2.4z" fill="#222"/>
<text x="601.8" y="387.2" font-size="6.2" stroke-width="0.16" text-anchor="middle" textLength="15.4" lengthAdjust="spacingAndGlyphs">46.22</text>
<line x1="514.9" y1="483.4" x2="514.9" y2="531.8" stroke="#222" stroke-width="0.5"/>
<line x1="514.9" y1="540.2" x2="514.9" y2="595.2" stroke="#222" stroke-width="0.5"/>
<path d="M514.9 481.4l-1.2 4.2h2.4zM514.9 597.2l-1.2 -4.2h2.4z" fill="#222"/>
<text x="516.6" y="538.2" font-size="6.2" stroke-width="0.16" text-anchor="middle" textLength="15.4" lengthAdjust="spacingAndGlyphs">42.69</text>
<line x1="31.5" y1="4.8" x2="86.5" y2="4.8" stroke="#222" stroke-width="0.5"/>
<line x1="109.5" y1="4.8" x2="164.5" y2="4.8" stroke="#222" stroke-width="0.5"/>
<path d="M29.4 4.8l4.2 -1.2v2.4zM166.6 4.8l-4.2 -1.2v2.4z" fill="#222"/>
<text x="98.0" y="7.1" font-size="6.4" textLength="16.4" lengthAdjust="spacingAndGlyphs" text-anchor="middle" stroke-width="0.16">48.90</text>
<g transform="translate(191.6 10.5) rotate(0)"><path d="M-3.3 -3.6C-3.3 -6.4 -1.8 -7.3 0 -7.3C1.8 -7.3 3.3 -6.4 3.3 -3.6V5.2C3.3 6.6 2.3 7.2 0 7.2C-2.3 7.2 -3.3 6.6 -3.3 5.2Z" fill="#1B7A9F"/><path d="M-2.5 -1.3C-2.3 -3.0 -1.2 -3.5 0 -3.5C1.2 -3.5 2.3 -3.0 2.5 -1.3Z" fill="#E9EFF6"/><path d="M-2.4 3.4H2.4L2.2 5.1C1.2 5.5 -1.2 5.5 -2.2 5.1Z" fill="#E9EFF6"/><rect x="-2.9" y="-1.6" width="0.7" height="5.4" fill="#D5E3EC"/><rect x="2.2" y="-1.6" width="0.7" height="5.4" fill="#D5E3EC"/><rect x="-2.1" y="-1.3" width="4.2" height="4.7" fill="#0F5F82"/></g>
<g transform="translate(178.7 101.5) rotate(180)"><path d="M-3.3 -3.6C-3.3 -6.4 -1.8 -7.3 0 -7.3C1.8 -7.3 3.3 -6.4 3.3 -3.6V5.2C3.3 6.6 2.3 7.2 0 7.2C-2.3 7.2 -3.3 6.6 -3.3 5.2Z" fill="#1B7A9F"/><path d="M-2.5 -1.3C-2.3 -3.0 -1.2 -3.5 0 -3.5C1.2 -3.5 2.3 -3.0 2.5 -1.3Z" fill="#E9EFF6"/><path d="M-2.4 3.4H2.4L2.2 5.1C1.2 5.5 -1.2 5.5 -2.2 5.1Z" fill="#E9EFF6"/><rect x="-2.9" y="-1.6" width="0.7" height="5.4" fill="#D5E3EC"/><rect x="2.2" y="-1.6" width="0.7" height="5.4" fill="#D5E3EC"/><rect x="-2.1" y="-1.3" width="4.2" height="4.7" fill="#0F5F82"/></g>
<g transform="translate(180.1 417.2) rotate(180)"><path d="M-3.3 -3.6C-3.3 -6.4 -1.8 -7.3 0 -7.3C1.8 -7.3 3.3 -6.4 3.3 -3.6V5.2C3.3 6.6 2.3 7.2 0 7.2C-2.3 7.2 -3.3 6.6 -3.3 5.2Z" fill="#1B7A9F"/><path d="M-2.5 -1.3C-2.3 -3.0 -1.2 -3.5 0 -3.5C1.2 -3.5 2.3 -3.0 2.5 -1.3Z" fill="#E9EFF6"/><path d="M-2.4 3.4H2.4L2.2 5.1C1.2 5.5 -1.2 5.5 -2.2 5.1Z" fill="#E9EFF6"/><rect x="-2.9" y="-1.6" width="0.7" height="5.4" fill="#D5E3EC"/><rect x="2.2" y="-1.6" width="0.7" height="5.4" fill="#D5E3EC"/><rect x="-2.1" y="-1.3" width="4.2" height="4.7" fill="#0F5F82"/></g>
<g transform="translate(285.4 174.6) rotate(90)"><path d="M-3.3 -3.6C-3.3 -6.4 -1.8 -7.3 0 -7.3C1.8 -7.3 3.3 -6.4 3.3 -3.6V5.2C3.3 6.6 2.3 7.2 0 7.2C-2.3 7.2 -3.3 6.6 -3.3 5.2Z" fill="#1B7A9F"/><path d="M-2.5 -1.3C-2.3 -3.0 -1.2 -3.5 0 -3.5C1.2 -3.5 2.3 -3.0 2.5 -1.3Z" fill="#E9EFF6"/><path d="M-2.4 3.4H2.4L2.2 5.1C1.2 5.5 -1.2 5.5 -2.2 5.1Z" fill="#E9EFF6"/><rect x="-2.9" y="-1.6" width="0.7" height="5.4" fill="#D5E3EC"/><rect x="2.2" y="-1.6" width="0.7" height="5.4" fill="#D5E3EC"/><rect x="-2.1" y="-1.3" width="4.2" height="4.7" fill="#0F5F82"/></g>
<g transform="translate(467.2 173.4) rotate(270)"><path d="M-3.3 -3.6C-3.3 -6.4 -1.8 -7.3 0 -7.3C1.8 -7.3 3.3 -6.4 3.3 -3.6V5.2C3.3 6.6 2.3 7.2 0 7.2C-2.3 7.2 -3.3 6.6 -3.3 5.2Z" fill="#1B7A9F"/><path d="M-2.5 -1.3C-2.3 -3.0 -1.2 -3.5 0 -3.5C1.2 -3.5 2.3 -3.0 2.5 -1.3Z" fill="#E9EFF6"/><path d="M-2.4 3.4H2.4L2.2 5.1C1.2 5.5 -1.2 5.5 -2.2 5.1Z" fill="#E9EFF6"/><rect x="-2.9" y="-1.6" width="0.7" height="5.4" fill="#D5E3EC"/><rect x="2.2" y="-1.6" width="0.7" height="5.4" fill="#D5E3EC"/><rect x="-2.1" y="-1.3" width="4.2" height="4.7" fill="#0F5F82"/></g>
<g transform="translate(257.3 458.7) rotate(90)"><path d="M-3.3 -3.6C-3.3 -6.4 -1.8 -7.3 0 -7.3C1.8 -7.3 3.3 -6.4 3.3 -3.6V5.2C3.3 6.6 2.3 7.2 0 7.2C-2.3 7.2 -3.3 6.6 -3.3 5.2Z" fill="#1B7A9F"/><path d="M-2.5 -1.3C-2.3 -3.0 -1.2 -3.5 0 -3.5C1.2 -3.5 2.3 -3.0 2.5 -1.3Z" fill="#E9EFF6"/><path d="M-2.4 3.4H2.4L2.2 5.1C1.2 5.5 -1.2 5.5 -2.2 5.1Z" fill="#E9EFF6"/><rect x="-2.9" y="-1.6" width="0.7" height="5.4" fill="#D5E3EC"/><rect x="2.2" y="-1.6" width="0.7" height="5.4" fill="#D5E3EC"/><rect x="-2.1" y="-1.3" width="4.2" height="4.7" fill="#0F5F82"/></g>
<g transform="translate(406.4 453.0) rotate(270)"><path d="M-3.3 -3.6C-3.3 -6.4 -1.8 -7.3 0 -7.3C1.8 -7.3 3.3 -6.4 3.3 -3.6V5.2C3.3 6.6 2.3 7.2 0 7.2C-2.3 7.2 -3.3 6.6 -3.3 5.2Z" fill="#1B7A9F"/><path d="M-2.5 -1.3C-2.3 -3.0 -1.2 -3.5 0 -3.5C1.2 -3.5 2.3 -3.0 2.5 -1.3Z" fill="#E9EFF6"/><path d="M-2.4 3.4H2.4L2.2 5.1C1.2 5.5 -1.2 5.5 -2.2 5.1Z" fill="#E9EFF6"/><rect x="-2.9" y="-1.6" width="0.7" height="5.4" fill="#D5E3EC"/><rect x="2.2" y="-1.6" width="0.7" height="5.4" fill="#D5E3EC"/><rect x="-2.1" y="-1.3" width="4.2" height="4.7" fill="#0F5F82"/></g>
<g transform="translate(490.3 469.6) rotate(90)"><path d="M-3.3 -3.6C-3.3 -6.4 -1.8 -7.3 0 -7.3C1.8 -7.3 3.3 -6.4 3.3 -3.6V5.2C3.3 6.6 2.3 7.2 0 7.2C-2.3 7.2 -3.3 6.6 -3.3 5.2Z" fill="#1B7A9F"/><path d="M-2.5 -1.3C-2.3 -3.0 -1.2 -3.5 0 -3.5C1.2 -3.5 2.3 -3.0 2.5 -1.3Z" fill="#E9EFF6"/><path d="M-2.4 3.4H2.4L2.2 5.1C1.2 5.5 -1.2 5.5 -2.2 5.1Z" fill="#E9EFF6"/><rect x="-2.9" y="-1.6" width="0.7" height="5.4" fill="#D5E3EC"/><rect x="2.2" y="-1.6" width="0.7" height="5.4" fill="#D5E3EC"/><rect x="-2.1" y="-1.3" width="4.2" height="4.7" fill="#0F5F82"/></g>
<rect x="623.7" y="18.6" width="20.6" height="20.4" fill="#7DC266"/>
<rect x="623.7" y="52.3" width="20.6" height="20.4" fill="#FFEB70"/>
<rect x="624.3" y="89.1" width="20.6" height="20.4" fill="#FF6666"/>
<rect x="623.7" y="124.9" width="20.6" height="20.4" fill="#D9D9D9"/>
<text x="655.1" y="34.1" font-size="14.4" textLength="74.0" lengthAdjust="spacingAndGlyphs" stroke-width="0.25">DISPONIBLE</text>
<text x="655.1" y="68.1" font-size="14.4" textLength="130.6" lengthAdjust="spacingAndGlyphs" stroke-width="0.25">EN CONSTRUCCIÓN</text>
<text x="658.6" y="104.1" font-size="14.4" textLength="60.0" lengthAdjust="spacingAndGlyphs" stroke-width="0.25">VENDIDO</text>
<text x="659.1" y="137.6" font-size="14.4" textLength="100.9" lengthAdjust="spacingAndGlyphs" stroke-width="0.25">NO DISPONIBLE</text>
<path d="M675 630C672.5 622 671 612 671.3 603C671.5 597 672 593 673.5 589C676 581 681 573 687 569.5C691 567.5 695.5 568 698.5 571C702.5 575 704 581 706.5 585.5C709.5 590.5 716 592.5 722 594.5C728 597 732 602 732 608.5C732 616 727 623 720 630Z" fill="#BCC7BF"/>
<g fill="none" stroke="#626963" stroke-width="1.15" stroke-linecap="round"><path d="M648.6 589.5C648 585.5 655 583 662 583.6C668 584.2 671 587.5 675 591C680 595 686 597.5 690 604"/><path d="M648.6 589.5C650 596 653 601.5 659 603C664 604.2 668 602.5 671.5 600.2"/><path d="M676 597.5C681 598.5 686 601 688.5 606"/><path d="M675 603C680 604 684 605.5 687.5 609.5"/><path d="M677 610.5C684 612 692 617 697 630"/><path d="M669.8 610C668 616 669.5 623 672.5 630"/><path d="M691 579C690 586 694 596 697 603C700 611 699 621 697.5 630"/><path d="M691 579C694 575 701 577 706 582C713 589 718 597 719.5 606C720.5 613 716 620 713 630"/><path d="M704 588C709 596 712.5 606 710 616C709 621 706 626 705 630"/></g>
</svg>
</body></html>
